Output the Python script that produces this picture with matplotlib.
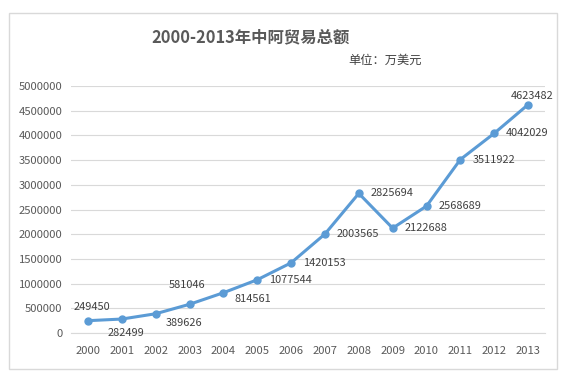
import matplotlib.pyplot as plt
from matplotlib.patches import Rectangle

plt.rcParams['font.family'] = ['Noto Sans CJK SC', 'DejaVu Sans']

years = ['2000', '2001', '2002', '2003', '2004', '2005', '2006',
         '2007', '2008', '2009', '2010', '2011', '2012', '2013']
trade = [249450, 282499, 389626, 581046, 814561, 1077544, 1420153,
         2003565, 2825694, 2122688, 2568689, 3511922, 4042029, 4623482]
yticks = [0, 500000, 1000000, 1500000, 2000000, 2500000,
          3000000, 3500000, 4000000, 4500000, 5000000]

# label placement (pixels offset, alignment)
label_pos = [(4, 14, 'center'), (4, -14, 'center'), (28, -9, 'center'),
             (-2, 19, 'center'), (30, -6, 'center')] + \
            [(12, 0, 'left')] * 8 + [(4, 9, 'center')]

fig = plt.figure(figsize=(5.73, 3.77), dpi=100)
ax = fig.add_axes([71 / 573, 1 - 333 / 377, 474 / 573, 247 / 377])

x = list(range(len(years)))
ax.plot(x, trade, color='#5B9BD5', linewidth=2.2, marker='o',
        markersize=5, zorder=3)

for xi, v, (dx, dy, ha) in zip(x, trade, label_pos):
    ax.annotate(str(v), (xi, v), xytext=(dx, dy), textcoords='offset pixels',
                ha=ha, va='center', fontsize=7.9, color='#404040')

ax.set_xlim(-0.5, len(years) - 0.5)
ax.set_ylim(0, 5000000)
ax.set_xticks(x)
ax.set_xticklabels(years)
ax.set_yticks(yticks)
ax.set_yticklabels([str(t) for t in yticks])
ax.tick_params(axis='both', length=0, labelsize=8.1, labelcolor='#595959')
ax.tick_params(axis='x', pad=9)
ax.tick_params(axis='y', pad=6)
ax.grid(axis='y', color='#D9D9D9', linewidth=0.8)
ax.set_axisbelow(True)
for s in ['top', 'right', 'left']:
    ax.spines[s].set_visible(False)
ax.spines['bottom'].set_color('#D9D9D9')

fig.patches.append(Rectangle((9 / 573, 1 - 369 / 377), 548 / 573, 356 / 377,
                             transform=fig.transFigure, fill=False,
                             edgecolor='#D9D9D9', linewidth=1))

fig.text(251 / 573, 1 - 37 / 377, '2000-2013年中阿贸易总额', ha='center',
         va='center', fontsize=11.8, fontweight='bold', color='#595959')
fig.text(385 / 573, 1 - 60 / 377, '单位：万美元', ha='center', va='center',
         fontsize=8.8, color='#404040')

fig.savefig('out.png', dpi=100)
